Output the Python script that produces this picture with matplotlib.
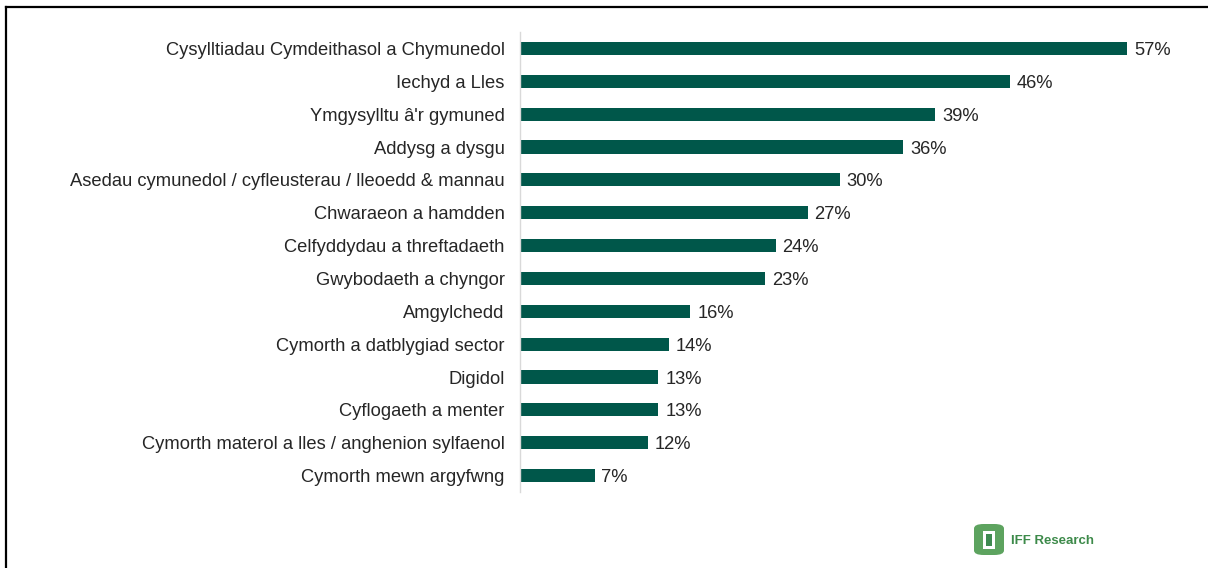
import matplotlib
matplotlib.use("Agg")
import matplotlib.pyplot as plt
from matplotlib.patches import FancyBboxPatch, Rectangle
from matplotlib.lines import Line2D

categories = [
    "Cysylltiadau Cymdeithasol a Chymunedol",
    "Iechyd a Lles",
    "Ymgysylltu â'r gymuned",
    "Addysg a dysgu",
    "Asedau cymunedol / cyfleusterau / lleoedd & mannau",
    "Chwaraeon a hamdden",
    "Celfyddydau a threftadaeth",
    "Gwybodaeth a chyngor",
    "Amgylchedd",
    "Cymorth a datblygiad sector",
    "Digidol",
    "Cyflogaeth a menter",
    "Cymorth materol a lles / anghenion sylfaenol",
    "Cymorth mewn argyfwng",
]
values = [57, 46, 39, 36, 30, 27, 24, 23, 16, 14, 13, 13, 12, 7]
value_labels = [f"{v}%" for v in values]

plt.rcParams['font.family'] = ['Liberation Sans', 'DejaVu Sans']

W, H = 1208, 568
fig = plt.figure(figsize=(W / 100, H / 100), dpi=100)

x0, x1 = 520, 1190
y_top, y_bot = 32, 492
px_per_unit = 10.65
xmax = (x1 - x0) / px_per_unit
ax = fig.add_axes([x0 / W, 1 - y_bot / H, (x1 - x0) / W, (y_bot - y_top) / H])

pos = list(range(len(categories)))
bar_color = "#00574A"
ax.barh(pos, values, height=0.4, color=bar_color)
ax.set_ylim(len(categories) - 0.5, -0.5)
ax.set_xlim(0, xmax)
ax.set_yticks(pos)
ax.set_yticklabels(categories, fontsize=13.2, color="#262626")
ax.tick_params(axis='y', length=0, pad=11)
ax.set_xticks([])
for s in ["top", "right", "bottom"]:
    ax.spines[s].set_visible(False)
ax.spines["left"].set_color("#d9d9d9")
ax.spines["left"].set_linewidth(1.0)

for p, v, lab in zip(pos, values, value_labels):
    ax.annotate(lab, (v, p), xytext=(5, 0), textcoords="offset points",
                va="center_baseline", ha="left", fontsize=13.2, color="#262626")

# frame (top and left lines)
fig.add_artist(Line2D([6 / W, 6 / W], [0, 1 - 6.5 / H], transform=fig.transFigure,
                      color="black", linewidth=1.6))
fig.add_artist(Line2D([6 / W, 1], [1 - 6.5 / H, 1 - 6.5 / H], transform=fig.transFigure,
                      color="black", linewidth=1.6))

# logo
lx, ly, lw, lh = 974, 524, 30, 31
fig.add_artist(FancyBboxPatch((lx / W, 1 - (ly + lh) / H), lw / W, lh / H,
                              boxstyle="round,pad=0,rounding_size=0.008",
                              transform=fig.transFigure, facecolor="#5da35f",
                              edgecolor="none"))
fig.add_artist(Rectangle(((lx + 9) / W, 1 - (ly + 25) / H), 12 / W, 18 / H,
                         transform=fig.transFigure, facecolor="white", edgecolor="none"))
fig.add_artist(Rectangle(((lx + 12) / W, 1 - (ly + 22) / H), 6 / W, 12 / H,
                         transform=fig.transFigure, facecolor="#3f8a50", edgecolor="none"))
fig.text(1011 / W, 1 - 541 / H, "IFF Research", fontsize=9.5, fontweight="bold",
         color="#3d8a4a", va="center", ha="left")

fig.savefig("out.png", dpi=100, facecolor="white")
